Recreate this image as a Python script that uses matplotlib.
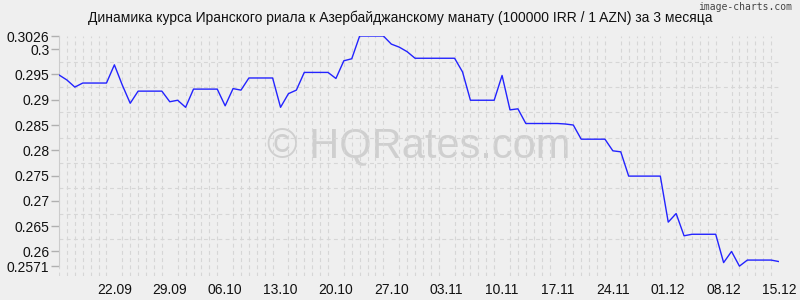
import numpy as np
import pandas as pd
import matplotlib
matplotlib.use('Agg')
import matplotlib.pyplot as plt
import matplotlib.dates as mdates
from matplotlib.ticker import FixedLocator

title = 'Динамика курса Иранского риала к Азербайджанскому манату (100000 IRR / 1 AZN) за 3 месяца'
start_date = '2023-09-15'

# IRR per AZN, one value per day from 15.09 to 15.12
rates = [
    0.2949, 0.2939, 0.2925, 0.2933, 0.2933, 0.2933, 0.2933, 0.2969, 0.2929, 0.2893,
    0.2917, 0.2917, 0.2917, 0.2917, 0.2896, 0.2899, 0.2885, 0.2921, 0.2921, 0.2921,
    0.2921, 0.2888, 0.2922, 0.2919, 0.2943, 0.2943, 0.2943, 0.2943, 0.2885, 0.2912,
    0.2919, 0.2954, 0.2954, 0.2954, 0.2954, 0.2942, 0.2977, 0.2981, 0.3026, 0.3026,
    0.3026, 0.3026, 0.3010, 0.3004, 0.2995, 0.2982, 0.2982, 0.2982, 0.2982, 0.2982,
    0.2982, 0.2955, 0.2899, 0.2899, 0.2899, 0.2899, 0.2948, 0.2880, 0.2882, 0.2853,
    0.2853, 0.2853, 0.2853, 0.2853, 0.2852, 0.2850, 0.2822, 0.2822, 0.2822, 0.2822,
    0.2799, 0.2797, 0.2749, 0.2749, 0.2749, 0.2749, 0.2749, 0.2658, 0.2675, 0.2631,
    0.2634, 0.2634, 0.2634, 0.2634, 0.2578, 0.2600, 0.2571, 0.2583, 0.2583, 0.2583,
    0.2583, 0.2580,
]

x_labels = ['22.09', '29.09', '06.10', '13.10', '20.10', '27.10', '03.11',
            '10.11', '17.11', '24.11', '01.12', '08.12', '15.12']
y_ticks = [0.2571, 0.26, 0.265, 0.27, 0.275, 0.28, 0.285, 0.29, 0.295, 0.3, 0.3026]
y_labels = ['0.2571', '0.26', '0.265', '0.27', '0.275', '0.28', '0.285',
            '0.29', '0.295', '0.3', '0.3026']

bg = '#efefef'
grid_col = '#d6d6d6'

plt.rcParams['font.family'] = ['Liberation Sans', 'DejaVu Sans']

dates = pd.date_range(start_date, periods=len(rates), freq='D')
label_dates = [pd.Timestamp(f'2023-{s[3:5]}-{s[0:2]}') for s in x_labels]

fig = plt.figure(figsize=(8, 3), dpi=100, facecolor=bg)
ax = fig.add_axes([0.07375, 0.08, 0.9, 0.80])
ax.set_facecolor(bg)

ax.plot(dates, rates, color='#2323ff', lw=1.0, zorder=3)

ax.set_xlim(dates[0], dates[-1])
ax.set_ylim(0.25515, 0.3026)

# x: one dashed gridline per day, labels weekly
ax.xaxis.set_major_locator(FixedLocator(mdates.date2num(label_dates)))
ax.set_xticklabels(x_labels)
ax.xaxis.set_minor_locator(mdates.DayLocator())
ax.tick_params(axis='x', which='both', length=0, pad=5, labelsize=10, colors='#111111')

# y: labelled ticks, dashed grid every 0.0025
grid_y = list(np.arange(0.26, 0.30001, 0.0025)) + [0.2571, 0.3026]
ax.yaxis.set_major_locator(FixedLocator(y_ticks))
ax.set_yticklabels(y_labels)
ax.yaxis.set_minor_locator(FixedLocator(grid_y))
ax.tick_params(axis='y', which='major', length=6, width=1, color='#b0b0b0',
               pad=1, labelsize=10, labelcolor='#111111')
ax.tick_params(axis='y', which='minor', length=0)

ax.grid(which='minor', axis='both', color=grid_col, lw=0.8, ls=(0, (3.5, 3)))
ax.grid(which='major', visible=False)

for side in ['top', 'right', 'bottom']:
    ax.spines[side].set_visible(False)
ax.spines['left'].set_color('#cccccc')
ax.spines['left'].set_bounds(0.2571, 0.3026)

fig.text(0.5, 0.94, title, ha='center', va='center', fontsize=10, color='#111111')
fig.text(0.99, 0.975, 'image-charts.com', ha='right', va='center', fontsize=7,
         color='#444444', family='DejaVu Sans Mono')
ax.text(0.5, 0.54, '© HQRates.com', transform=ax.transAxes, ha='center', va='center',
        fontsize=30, color='#c8c8c8', alpha=0.8, zorder=1)

fig.savefig('out.png', dpi=100, facecolor=bg)
